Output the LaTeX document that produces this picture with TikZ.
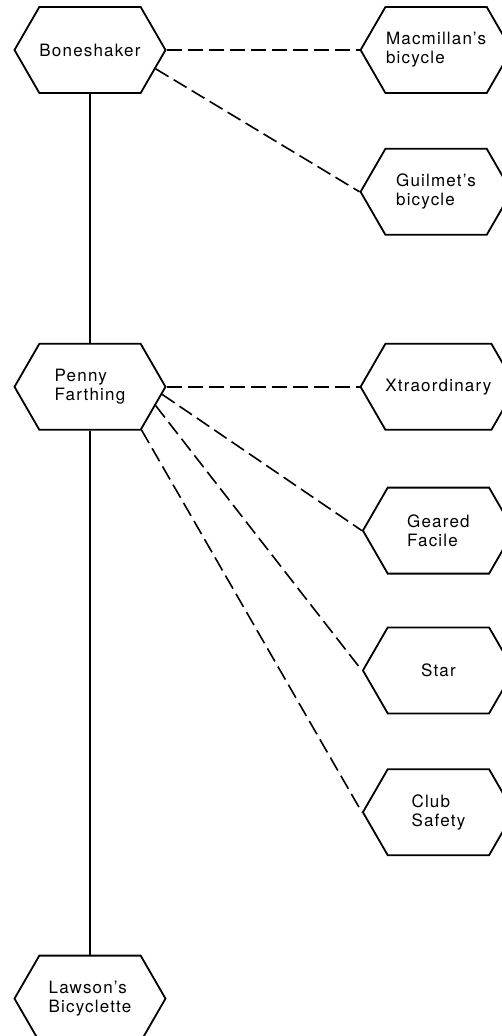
\documentclass[tikz,border=0pt]{standalone}
\usepackage{fontspec}
\setmainfont{TeX Gyre Heros}[LetterSpace=7]
\usetikzlibrary{positioning,shapes.symbols}

\begin{document}
\begin{tikzpicture}[
  node distance=54pt and 193pt,
  bike/.style={draw,signal,signal to=west and east,signal pointer angle=120,
              minimum width=151pt,minimum height=86pt,inner sep=0pt,align=left,
              font=\fontsize{17}{19}\selectfont,line width=1.8pt},
  link/.style={line width=1.7pt},
  var/.style={line width=1.6pt,dash pattern=on 15pt off 6pt}]
\useasboundingbox (-90pt,50pt) rectangle ++(501pt,-1036pt);
\node[bike] (bone) at (0,0) {Boneshaker};
\node[bike,right=of bone] (macm) {Macmillan's\\bicycle};
\node[bike,below=of macm] (guil) {Guilmet's\\bicycle};
\node[bike,below=249pt of bone] (penny) {Penny\\Farthing};
\node[bike,right=of penny] (xtra) {Xtraordinary};
\node[bike,below=56pt of xtra] (geared) {Geared\\Facile};
\node[bike,below=52pt of geared] (star) {Star};
\node[bike,below=of star] (club) {Club\\Safety};
\node[bike,below=524pt of penny] (lawson) {Lawson's\\Bicyclette};
% main line of descent
\draw[link] (bone.south) -- (penny.north);
\draw[link] (penny.south) -- (lawson.north);
% variants
\draw[var] (bone.east) -- (macm.west);
\draw[var] (bone.-16) -- (guil.west);
\draw[var] (penny.east) -- (xtra.west);
\draw[var] (penny.-6) -- (geared.west);
\draw[var] (penny.-16) -- (star.west);
\draw[var] (penny.-40) -- (club.west);
\end{tikzpicture}
\end{document}
